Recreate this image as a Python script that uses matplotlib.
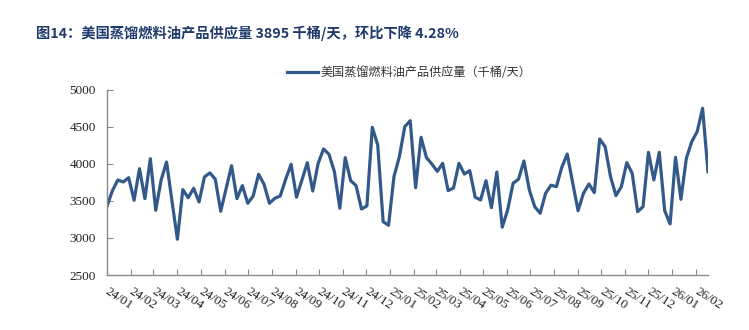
import matplotlib
matplotlib.use("Agg")
import matplotlib.pyplot as plt
import matplotlib.dates as mdates
import pandas as pd

plt.rcParams['font.family'] = ['Noto Sans CJK SC', 'DejaVu Sans']

title = "图14：美国蒸馏燃料油产品供应量 3895 千桶/天，环比下降 4.28%"
series_name = "美国蒸馏燃料油产品供应量（千桶/天）"
start_date = "2024-01-01"

values = [
    3430, 3640, 3784, 3757, 3815, 3510, 3937, 3532, 4072, 3375,
    3784, 4027, 3500, 2983, 3654, 3545, 3672, 3487, 3825, 3880,
    3794, 3361, 3667, 3977, 3532, 3708, 3469, 3568, 3861, 3726,
    3469, 3537, 3568, 3794, 3996, 3551, 3784, 4018, 3635, 4009,
    4203, 4131, 3896, 3402, 4086, 3775, 3708, 3392, 3433, 4496,
    4257, 3221, 3172, 3829, 4099, 4505, 4585, 3680, 4361, 4086,
    4000, 3901, 4009, 3640, 3676, 4009, 3865, 3910, 3551, 3514,
    3775, 3410, 3892, 3146, 3379, 3740, 3794, 4041, 3649, 3423,
    3334, 3604, 3713, 3694, 3956, 4135, 3748, 3370, 3604, 3730,
    3613, 4338, 4234, 3829, 3573, 3694, 4018, 3874, 3356, 3423,
    4158, 3784, 4158, 3370, 3190, 4090, 3523, 4077, 4302, 4437,
    4753, 3895,
]
dates = pd.date_range(start_date, periods=len(values), freq="7D")

month_ticks = pd.date_range("2024-01-01", "2026-02-01", freq="MS")
month_labels = [d.strftime("%y/%m") for d in month_ticks]
y_ticks = [2500, 3000, 3500, 4000, 4500, 5000]

fig = plt.figure(figsize=(7.49, 3.30), dpi=100)
ax = fig.add_axes([107/749, 55/330, 601/749, 185/330])

line_color = "#33598A"
ax.plot(dates, values, color=line_color, lw=2.3, solid_joinstyle="round",
        label=series_name)

ax.set_xlim(dates[0], dates[-1])
ax.set_ylim(2500, 5000)
ax.set_yticks(y_ticks)
ax.set_yticklabels([str(v) for v in y_ticks], family="Liberation Serif",
                   fontsize=9.5, color="#222222")
ax.set_xticks(month_ticks)
ax.set_xticklabels([])
for d, lab in zip(month_ticks, month_labels):
    ax.annotate(lab, xy=(mdates.date2num(d), 0), xycoords=("data", "axes fraction"),
                xytext=(2, -7.5), textcoords="offset points",
                rotation=-33, rotation_mode="anchor", ha="left", va="top",
                family="Liberation Serif", fontsize=9.5, color="#222222",
                annotation_clip=False)

for s in ["top", "right"]:
    ax.spines[s].set_visible(False)
for s in ["left", "bottom"]:
    ax.spines[s].set_color("#8C8C8C")
    ax.spines[s].set_linewidth(1.0)
ax.tick_params(axis="both", direction="in", length=4, color="#8C8C8C", width=0.8)
ax.tick_params(axis="y", pad=8)

leg = fig.legend(loc="upper left", bbox_to_anchor=(287/749, 1 - 66/330),
                 frameon=False, fontsize=8.7, handlelength=2.6, handletextpad=0.2,
                 borderaxespad=0, borderpad=0)
for t in leg.get_texts():
    t.set_color("#333333")

fig.text(36/749, 1 - 33/330, title, fontsize=10.3, fontweight="bold",
         color="#1F3A6B", ha="left", va="center")

fig.savefig("out.png", dpi=100)
